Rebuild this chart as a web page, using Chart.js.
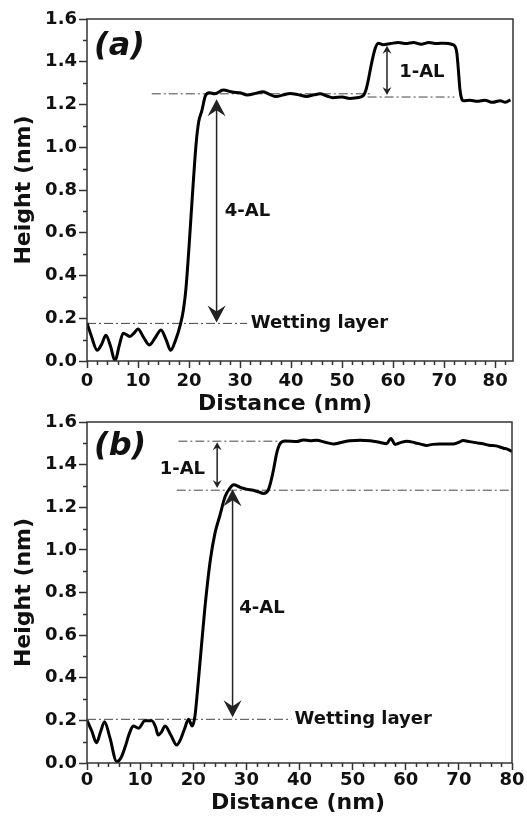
<!DOCTYPE html>
<html>
<head>
<meta charset="utf-8">
<script src="https://cdn.jsdelivr.net/npm/chart.js@4.4.1/dist/chart.umd.min.js"></script>
<style>
  html, body { margin: 0; padding: 0; background: #fff; }
  #wrap { position: relative; width: 527px; height: 819px; }
  canvas { position: absolute; left: 0; }
  #chartA { top: 0; }
  #chartB { top: 400px; }
</style>
</head>
<body>
<div id="wrap">
  <canvas id="chartA" width="527" height="420"></canvas>
  <canvas id="chartB" width="527" height="419"></canvas>
</div>
<script>
// panel (a) height profile
const distA = [0, 0.8, 2.0, 2.9, 3.7, 4.6, 5.5, 6.3, 7.1, 8.4, 9.2, 10.0, 11.1, 12.2, 13.4, 14.5, 15.5, 16.4,
  17.4, 18.3, 18.9, 19.4, 19.9, 20.4, 20.9, 21.4, 21.9, 22.5, 23.2, 24.0, 25.0, 26.7, 28.5, 30.0, 31.4, 33.0,
  34.5, 36.0, 37.0, 38.5, 39.8, 41.5, 43.0, 44.5, 45.7, 47.0, 48.2, 50.0, 51.5, 53.0, 54.1, 54.7, 55.1, 55.8,
  56.5, 57.1, 58.0, 59.5, 61.0, 62.5, 64.0, 65.5, 67.0, 68.5, 70.0, 71.5, 72.2, 72.5, 72.8, 73.1, 73.4, 73.8,
  75.0, 76.5, 78.0, 79.5, 81.0, 82.0, 83.0];
const heightA = [0.178, 0.12, 0.05, 0.08, 0.12, 0.07, 0.0, 0.07, 0.13, 0.115, 0.13, 0.15, 0.11, 0.075, 0.11, 0.145, 0.10, 0.05,
  0.10, 0.17, 0.24, 0.34, 0.50, 0.68, 0.86, 1.02, 1.12, 1.17, 1.24, 1.255, 1.25, 1.268, 1.258, 1.255, 1.245, 1.252,
  1.26, 1.245, 1.237, 1.245, 1.252, 1.245, 1.238, 1.245, 1.25, 1.24, 1.232, 1.235, 1.228, 1.232, 1.24, 1.27, 1.31, 1.395,
  1.463, 1.487, 1.48, 1.485, 1.49, 1.485, 1.49, 1.482, 1.49, 1.485, 1.487, 1.482, 1.47, 1.44, 1.36, 1.27, 1.23, 1.217,
  1.22, 1.215, 1.22, 1.21, 1.218, 1.21, 1.222];

// panel (b) height profile
const distB = [0, 0.9, 1.8, 2.6, 3.3, 4.3, 5.6, 6.4, 7.2, 8.0, 8.7, 9.7, 10.9, 12.2, 12.9, 13.4, 14.0, 14.7, 15.8,
  16.9, 17.6, 18.4, 19.1, 19.8, 20.3, 20.8, 21.3, 22.2, 23.2, 24.1, 25.0, 26.0, 26.9, 27.6, 28.8, 30.0, 31.3,
  32.3, 33.2, 34.1, 34.6, 35.1, 35.7, 36.3, 37.3, 39.5, 40.7, 42.0, 43.2, 44.8, 46.4, 48.0, 49.5, 51.4, 53.3,
  55.2, 56.4, 57.2, 58.0, 59.0, 60.2, 61.7, 63.0, 63.9, 65.0, 66.4, 68.9, 70.0, 70.8, 72.0, 73.4, 75.0, 75.9,
  77.0, 78.4, 79.2, 80.0];
const heightB = [0.20, 0.15, 0.095, 0.15, 0.194, 0.12, 0.006, 0.025, 0.077, 0.14, 0.174, 0.163, 0.198, 0.198, 0.17, 0.131, 0.145, 0.174, 0.13,
  0.084, 0.11, 0.163, 0.205, 0.174, 0.217, 0.34, 0.48, 0.73, 0.95, 1.08, 1.16, 1.25, 1.29, 1.305, 1.294, 1.285, 1.28,
  1.272, 1.265, 1.28, 1.32, 1.375, 1.453, 1.497, 1.511, 1.508, 1.516, 1.512, 1.514, 1.505, 1.497, 1.505, 1.512, 1.514, 1.512,
  1.504, 1.498, 1.523, 1.495, 1.503, 1.51, 1.503, 1.495, 1.49, 1.495, 1.497, 1.497, 1.505, 1.513, 1.508, 1.502, 1.495, 1.49,
  1.488, 1.477, 1.472, 1.461];

// dash-dot guide lines: [xStart, xEnd, y]
const guidesA = [[12.7, 56, 1.25], [55, 72, 1.235], [0, 31.4, 0.176]];
const guidesB = [[17.2, 36, 1.51], [16.9, 80, 1.28], [0, 38.5, 0.205]];

// double arrows: [x, yTop, yBottom, big]
const arrowsA = [[25.4, 1.225, 0.18, true], [58.8, 1.475, 1.245, false]];
const arrowsB = [[27.4, 1.285, 0.215, true], [24.5, 1.505, 1.29, false]];

// text labels: [text, x, y, align]
const labelsA = [['4-AL', 26.6, 0.70, 'left'], ['1-AL', 60.8, 1.35, 'left'], ['Wetting layer', 31.7, 0.176, 'left']];
const labelsB = [['1-AL', 22.6, 1.38, 'right'], ['4-AL', 28.3, 0.726, 'left'], ['Wetting layer', 38.7, 0.205, 'left']];

const FONT = "'DejaVu Sans', Verdana, sans-serif";
const INK = '#222';

function arrowHead(ctx, x, y, dir, len, half) {
  // dir = -1 points up, 1 points down
  ctx.beginPath();
  ctx.moveTo(x, y);
  ctx.lineTo(x - half, y - dir * len);
  ctx.lineTo(x, y - dir * len * 0.65);
  ctx.lineTo(x + half, y - dir * len);
  ctx.closePath();
  ctx.fill();
}

const extras = {
  id: 'extras',
  afterDatasetsDraw(chart, args, opts) {
    const {ctx, chartArea: a, scales: {x, y}} = chart;
    ctx.save();
    ctx.strokeStyle = '#333';
    ctx.lineWidth = 1.5;
    ctx.strokeRect(a.left, a.top, a.right - a.left, a.bottom - a.top);

    // minor ticks
    ctx.beginPath();
    for (let v = 2; v <= x.max; v += 2) {
      if (v % 10 === 0) continue;
      const px = Math.round(x.getPixelForValue(v)) + 0.5;
      ctx.moveTo(px, a.bottom);
      ctx.lineTo(px, a.bottom + 4);
    }
    for (let i = 1; i < 16; i += 2) {
      const py = Math.round(y.getPixelForValue(i / 10)) + 0.5;
      ctx.moveTo(a.left, py);
      ctx.lineTo(a.left - 4, py);
    }
    ctx.stroke();

    // arrows
    ctx.fillStyle = INK;
    ctx.strokeStyle = INK;
    opts.arrows.forEach(([xv, y1, y2, big]) => {
      const px = x.getPixelForValue(xv);
      const top = y.getPixelForValue(y1);
      const bot = y.getPixelForValue(y2);
      const len = big ? 17 : 8;
      const half = big ? 9 : 4.5;
      ctx.lineWidth = 1.5;
      ctx.beginPath();
      ctx.moveTo(px, top + len * 0.6);
      ctx.lineTo(px, bot - len * 0.6);
      ctx.stroke();
      arrowHead(ctx, px, top, -1, len, half);
      arrowHead(ctx, px, bot, 1, len, half);
    });

    // labels
    ctx.fillStyle = '#111';
    ctx.textBaseline = 'middle';
    ctx.font = 'bold 18px ' + FONT;
    opts.labels.forEach(([t, xv, yv, align]) => {
      ctx.textAlign = align;
      ctx.fillText(t, x.getPixelForValue(xv) + (align === 'left' ? 2 : -2), y.getPixelForValue(yv));
    });

    // panel tag
    ctx.textAlign = 'left';
    ctx.font = 'italic bold 32px ' + FONT;
    ctx.fillText(opts.tag, a.left + 7, a.top + opts.tagDy);

    // x axis title
    ctx.textAlign = 'center';
    ctx.font = 'bold 22px ' + FONT;
    ctx.fillText('Distance (nm)', a.left + opts.titleDx, a.bottom + opts.titleDy);
    ctx.restore();
  }
};

function makeChart(id, dist, height, guides, xMax, axisH, pad, tickPad, extraOpts) {
  const datasets = [{
    data: dist.map((d, i) => ({x: d, y: height[i]})),
    borderColor: '#000',
    borderWidth: 3,
    pointRadius: 0,
    showLine: true,
    cubicInterpolationMode: 'monotone'
  }];
  guides.forEach(g => datasets.push({
    data: [{x: g[0], y: g[2]}, {x: g[1], y: g[2]}],
    borderColor: '#444',
    borderWidth: 1,
    borderDash: [9, 3, 2, 3],
    pointRadius: 0,
    showLine: true
  }));

  return new Chart(document.getElementById(id), {
    type: 'scatter',
    data: {datasets},
    plugins: [extras],
    options: {
      responsive: false,
      animation: false,
      devicePixelRatio: 1,
      layout: {padding: pad},
      plugins: {
        legend: {display: false},
        tooltip: {enabled: false},
        extras: extraOpts
      },
      scales: {
        x: {
          type: 'linear',
          min: 0,
          max: xMax,
          afterFit: s => { s.height = axisH; },
          border: {display: false},
          grid: {drawOnChartArea: false, tickLength: 7, tickColor: '#333', tickWidth: 1.5},
          ticks: {
            stepSize: 10,
            includeBounds: false,
            maxRotation: 0,
            padding: tickPad,
            color: '#111',
            font: {family: FONT, size: 18, weight: 'bold'},
            callback: v => v
          }
        },
        y: {
          min: 0,
          max: 1.6,
          afterFit: s => { s.width = 87; },
          border: {display: false},
          grid: {drawOnChartArea: false, tickLength: 8, tickColor: '#333', tickWidth: 1.5},
          title: {
            display: true,
            text: 'Height (nm)',
            color: '#111',
            font: {family: FONT, size: 22, weight: 'bold'},
            padding: {top: 11, bottom: 0}
          },
          ticks: {
            stepSize: 0.2,
            padding: 2,
            color: '#111',
            font: {family: FONT, size: 18, weight: 'bold'},
            callback: v => v.toFixed(1)
          }
        }
      }
    }
  });
}

makeChart('chartA', distA, heightA, guidesA, 83.5, 59, {top: 19, right: 14, left: 0, bottom: 0}, 3,
  {arrows: arrowsA, labels: labelsA, tag: '(a)', tagDy: 28, titleDx: 198, titleDy: 43});
makeChart('chartB', distB, heightB, guidesB, 80, 56, {top: 22, right: 15, left: 0, bottom: 0}, 0,
  {arrows: arrowsB, labels: labelsB, tag: '(b)', tagDy: 25, titleDx: 211, titleDy: 40});
</script>
</body>
</html>
